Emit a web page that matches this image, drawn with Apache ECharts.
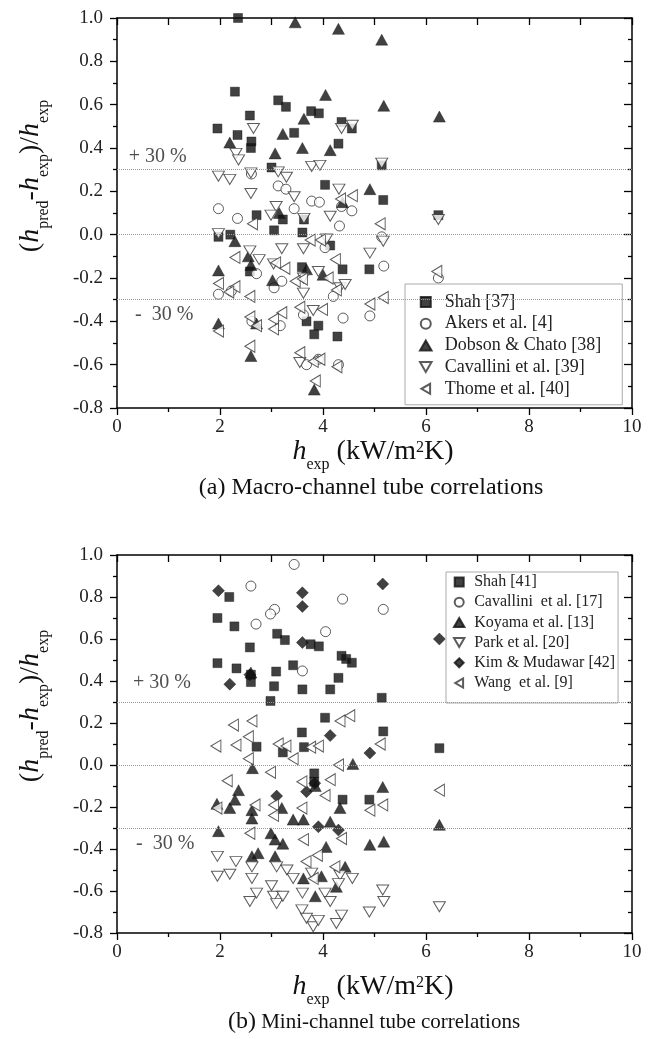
<!DOCTYPE html>
<html><head><meta charset="utf-8">
<script src="https://cdn.jsdelivr.net/npm/echarts@6/dist/echarts.min.js"></script>
<style>html,body{margin:0;padding:0;background:#fff;}#c{width:656px;height:1039px;}</style>
</head><body><div id="c"></div>
<script>
// ---------- Chart (a): macro-channel tube correlations ----------
const namesA = ['Shah [37]', 'Akers et al. [4]', 'Dobson & Chato [38]', 'Cavallini et al. [39]', 'Thome et al. [40]'];
const shahA = [[2.35,1.0],[2.29,0.66],[1.95,0.49],[2.58,0.55],[2.34,0.46],[2.61,0.43],[2.60,0.40],[3.13,0.62],[3.28,0.59],[3.44,0.47],[3.77,0.57],[3.92,0.56],[4.36,0.52],[4.56,0.49],[4.30,0.42],[3.0,0.31],[4.04,0.23],[5.17,0.16],[5.14,0.32],[2.71,0.09],[3.22,0.07],[3.05,0.02],[3.6,0.01],[4.14,-0.05],[1.97,-0.01],[2.2,0.0],[6.24,0.09],[4.38,-0.16],[4.9,-0.16],[3.59,-0.15],[2.58,-0.17],[3.68,-0.40],[3.91,-0.42],[3.83,-0.46],[4.28,-0.47],[3.63,0.07]];
const akersA = [[1.97,0.12],[2.34,0.075],[3.13,0.225],[3.28,0.21],[3.44,0.12],[3.78,0.155],[3.93,0.15],[4.36,0.13],[4.56,0.11],[4.32,0.04],[4.04,-0.06],[5.14,-0.01],[5.18,-0.145],[1.97,-0.275],[2.22,-0.26],[2.71,-0.18],[3.2,-0.215],[3.05,-0.245],[4.2,-0.285],[4.39,-0.385],[4.91,-0.375],[6.24,-0.2],[3.62,-0.37],[3.17,-0.42],[2.62,-0.40],[3.68,-0.60],[3.91,-0.575],[4.3,-0.60],[2.61,0.28]];
const dobsonA = [[3.46,0.98],[4.3,0.95],[5.14,0.9],[4.05,0.645],[5.18,0.595],[6.26,0.545],[3.63,0.535],[3.22,0.465],[2.19,0.425],[3.07,0.375],[3.6,0.4],[4.14,0.39],[4.91,0.21],[3.15,0.1],[4.38,0.15],[1.97,-0.165],[2.29,-0.03],[2.6,-0.14],[3.02,-0.21],[3.68,-0.16],[4.0,-0.185],[1.97,-0.41],[2.6,-0.56],[3.83,-0.715],[2.71,-0.41],[2.55,-0.10]];
const cavalliniA = [[2.65,0.49],[2.31,0.375],[2.36,0.345],[1.97,0.27],[2.19,0.255],[2.6,0.285],[2.6,0.19],[4.36,0.49],[4.57,0.505],[3.78,0.315],[3.94,0.32],[3.13,0.29],[3.29,0.265],[3.44,0.175],[3.09,0.13],[2.99,0.09],[3.63,0.075],[4.14,0.085],[4.31,0.21],[5.14,0.33],[6.24,0.07],[1.97,0.005],[2.58,-0.075],[3.2,-0.065],[3.62,-0.065],[4.07,-0.02],[4.91,-0.085],[5.17,-0.03],[2.76,-0.115],[3.91,-0.17],[4.33,-0.245],[4.43,-0.23],[3.62,-0.27],[3.81,-0.35],[3.55,-0.59],[3.62,-0.2],[3.04,-0.135]];
const thomeA = [[4.57,0.18],[4.34,0.165],[5.11,0.05],[2.63,0.05],[3.75,-0.025],[3.95,-0.025],[2.29,-0.105],[4.24,-0.115],[3.08,-0.13],[3.26,-0.155],[6.21,-0.17],[1.97,-0.225],[2.29,-0.24],[2.17,-0.265],[2.58,-0.285],[3.46,-0.215],[3.6,-0.205],[4.1,-0.2],[4.26,-0.255],[5.17,-0.29],[4.91,-0.32],[3.55,-0.335],[3.99,-0.345],[3.2,-0.36],[3.04,-0.39],[2.58,-0.38],[2.71,-0.42],[3.04,-0.435],[1.97,-0.445],[2.58,-0.515],[3.55,-0.545],[3.81,-0.585],[3.94,-0.575],[4.27,-0.61],[3.85,-0.675]];

// ---------- Chart (b): mini-channel tube correlations ----------
const namesB = ['Shah [41]', 'Cavallini  et al. [17]', 'Koyama et al. [13]', 'Park et al. [20]', 'Kim & Mudawar [42]', 'Wang  et al. [9]'];
const shahB = [[2.18,0.8],[1.95,0.7],[2.28,0.66],[2.58,0.56],[1.95,0.485],[2.32,0.46],[2.6,0.43],[2.6,0.395],[3.11,0.625],[3.26,0.595],[3.42,0.475],[3.09,0.445],[3.05,0.375],[2.98,0.305],[3.6,0.36],[3.76,0.575],[3.92,0.565],[4.36,0.52],[4.45,0.505],[4.56,0.487],[4.3,0.415],[4.14,0.36],[5.14,0.32],[4.04,0.225],[3.59,0.155],[5.17,0.16],[6.26,0.08],[2.71,0.087],[3.22,0.06],[3.63,0.085],[3.83,-0.04],[3.83,-0.08],[4.38,-0.165],[4.9,-0.165]];
const cavalliniB = [[3.44,0.955],[2.6,0.852],[4.38,0.79],[5.17,0.741],[3.06,0.741],[2.98,0.719],[2.7,0.671],[4.05,0.635],[3.6,0.448]];
const koyamaB = [[2.6,0.44],[2.63,-0.015],[4.58,0.005],[5.16,-0.105],[2.36,-0.12],[2.29,-0.165],[2.19,-0.205],[1.94,-0.185],[2.62,-0.215],[2.62,-0.255],[3.2,-0.205],[3.42,-0.26],[3.62,-0.26],[4.14,-0.27],[4.33,-0.205],[1.97,-0.315],[6.26,-0.285],[2.99,-0.325],[3.07,-0.355],[3.22,-0.375],[4.06,-0.39],[4.91,-0.38],[5.18,-0.365],[2.74,-0.42],[2.62,-0.435],[3.07,-0.435],[4.43,-0.485],[3.62,-0.54],[3.85,-0.625],[4.26,-0.58],[3.85,-0.1],[3.97,-0.53]];
const parkB = [[1.95,-0.435],[1.95,-0.53],[2.19,-0.52],[2.31,-0.46],[2.62,-0.485],[2.62,-0.54],[2.58,-0.65],[2.71,-0.61],[3.0,-0.575],[3.04,-0.625],[3.1,-0.66],[3.1,-0.485],[3.3,-0.5],[3.22,-0.625],[3.42,-0.54],[3.6,-0.61],[3.59,-0.69],[3.68,-0.73],[3.81,-0.77],[3.91,-0.74],[4.04,-0.61],[4.14,-0.65],[4.26,-0.755],[4.36,-0.715],[4.33,-0.525],[4.57,-0.54],[4.9,-0.7],[5.16,-0.595],[5.18,-0.65],[6.26,-0.675],[3.78,-0.515],[4.3,-0.565]];
const kimB = [[1.97,0.83],[3.6,0.82],[3.6,0.755],[5.16,0.862],[6.26,0.6],[3.6,0.583],[2.19,0.385],[2.58,0.43],[4.14,0.14],[4.91,0.057],[3.1,-0.148],[3.68,-0.127],[3.84,-0.087],[3.91,-0.294],[4.3,-0.31]];
const wangB = [[2.26,0.19],[2.62,0.21],[1.92,0.09],[2.31,0.095],[2.55,0.135],[3.13,0.1],[3.28,0.09],[2.55,0.03],[3.42,0.03],[3.76,0.085],[3.91,0.09],[4.33,0.21],[4.52,0.235],[5.11,0.1],[2.98,-0.035],[2.14,-0.075],[1.94,-0.205],[2.68,-0.19],[3.04,-0.19],[3.04,-0.24],[3.59,-0.205],[3.59,-0.08],[4.14,-0.07],[4.3,0.0],[4.04,-0.145],[4.91,-0.215],[5.16,-0.19],[6.26,-0.12],[2.58,-0.325],[3.62,-0.355],[4.36,-0.35],[3.67,-0.46],[3.89,-0.43],[4.23,-0.485],[3.81,-0.54]];

// ---------- shared axes / guides ----------
const xRange = [0, 10, 2];
const yRange = [-0.8, 1.0, 0.2];
const bandLines = [0.3, 0, -0.3];
const bandLabelsA = [[0.23, 0.36, '+ 30 %'], [0.35, -0.37, '-  30 %']];
const bandLabelsB = [[0.31, 0.39, '+ 30 %'], [0.37, -0.376, '-  30 %']];
const captionA = '(a) Macro-channel tube correlations';
const captionB = ['(b)', ' Mini-channel tube correlations'];

const F = 'Liberation Serif, Times New Roman, serif';
const INK = '#111';
const chart = echarts.init(document.getElementById('c'), null, {renderer: 'canvas'});

const SYM = {
  square: 'path://M0,0L1,0L1,1L0,1Z',
  circle: 'circle',
  up: 'path://M1,0L2,1.732L0,1.732Z',
  down: 'path://M0,0L2,0L1,1.732Z',
  left: 'path://M1.732,0L1.732,2L0,1Z',
  diamond: 'path://M1,0L2,1L1,2L0,1Z'
};

function xAxisPair(gi) {
  const base = {type: 'value', gridIndex: gi, min: xRange[0], max: xRange[1], interval: xRange[2],
    splitLine: {show: false},
    axisLine: {show: true, onZero: false, lineStyle: {color: '#000', width: 1.5}},
    minorTick: {show: true, splitNumber: 2, length: 4, lineStyle: {color: '#000', width: 1.3}}};
  return [
    Object.assign({}, base, {position: 'bottom',
      axisTick: {show: true, inside: false, length: 7, lineStyle: {color: '#000', width: 1.3}},
      axisLabel: {fontFamily: F, fontSize: 19, color: '#222', margin: 10}}),
    Object.assign({}, base, {position: 'top',
      axisTick: {show: true, inside: true, length: 7, lineStyle: {color: '#000', width: 1.3}},
      minorTick: {show: true, splitNumber: 2, length: 7, lineStyle: {color: '#000', width: 1.3}},
      axisLabel: {show: false}})
  ];
}
function yAxisPair(gi) {
  const base = {type: 'value', gridIndex: gi, min: yRange[0], max: yRange[1], interval: yRange[2],
    splitLine: {show: false},
    axisLine: {show: true, onZero: false, lineStyle: {color: '#000', width: 1.5}},
    minorTick: {show: true, splitNumber: 2, length: 4, lineStyle: {color: '#000', width: 1.3}}};
  return [
    Object.assign({}, base, {position: 'left',
      axisTick: {show: true, inside: false, length: 7, lineStyle: {color: '#000', width: 1.3}},
      axisLabel: {fontFamily: F, fontSize: 19, color: '#222', margin: 14,
        formatter: v => (Math.abs(v) < 1e-9 ? 0 : v).toFixed(1)}}),
    Object.assign({}, base, {position: 'right',
      axisTick: {show: true, inside: true, length: 8, lineStyle: {color: '#000', width: 1.3}},
      axisLabel: {show: false}})
  ];
}

function sc(name, data, gi, symbol, size, filled) {
  return {
    type: 'scatter', name: name, data: data,
    xAxisIndex: gi * 2, yAxisIndex: gi * 2, symbol: symbol, symbolSize: size,
    itemStyle: filled ? {color: INK, borderColor: INK, borderWidth: 0.5}
                      : {color: '#fff', borderColor: '#333', borderWidth: 1},
    emphasis: {disabled: true}
  };
}
function guides(gi, labels) {
  return {
    type: 'scatter', name: 'guides' + gi, data: labels, z: 1,
    xAxisIndex: gi * 2, yAxisIndex: gi * 2, symbolSize: 0,
    label: {show: true, position: 'right', distance: 0, formatter: p => p.data[2],
      fontFamily: F, fontSize: 20, color: '#222'},
    markLine: {silent: true, symbol: ['none', 'none'], label: {show: false},
      lineStyle: {color: '#999', type: 'dotted', width: 1},
      data: bandLines.map(v => ({yAxis: v}))}
  };
}

const richT = {
  p: {fontFamily: F, fontSize: 28, lineHeight: 34, verticalAlign: 'top', color: '#111'},
  h: {fontFamily: F, fontSize: 28, fontStyle: 'italic', lineHeight: 34, verticalAlign: 'top', color: '#111'},
  s: {fontFamily: F, fontSize: 16, lineHeight: 16, padding: [19, 0, 0, 0], verticalAlign: 'top', color: '#111'},
  u: {fontFamily: F, fontSize: 16, lineHeight: 16, padding: [2, 0, 0, 0], verticalAlign: 'top', color: '#111'}
};
const yTitle = '{p|(}{h|h}{s|pred}{p|-}{h|h}{s|exp}{p|)/}{h|h}{s|exp}';
const xTitle = '{h|h}{s|exp}{p| (kW/m}{u|2}{p|K)}';

function txt(x, y, text, rot, rich, extra) {
  return {type: 'text', x: x, y: y, rotation: rot || 0, silent: true,
    style: Object.assign({text: text, rich: rich, align: 'center', verticalAlign: 'middle',
      fontFamily: F, fill: '#111'}, extra || {})};
}

const legendBase = {orient: 'vertical', backgroundColor: '#fff', borderColor: '#aaa', borderWidth: 1,
  borderRadius: 0, selectedMode: false, inactiveColor: '#111'};

const option = {
  animation: false,
  backgroundColor: '#fff',
  grid: [
    {left: 117, right: 24, top: 18, height: 390},
    {left: 117, right: 24, top: 555, height: 378}
  ],
  xAxis: [].concat(xAxisPair(0), xAxisPair(1)),
  yAxis: [].concat(yAxisPair(0), yAxisPair(1)),
  legend: [
    Object.assign({}, legendBase, {data: namesA, left: 405, top: 284, itemWidth: 28, itemHeight: 10,
      itemGap: 3.7, padding: [9, 21, 7, 14],
      textStyle: {fontFamily: F, fontSize: 18, lineHeight: 18, color: '#222'}}),
    Object.assign({}, legendBase, {data: namesB, left: 446, top: 572, itemWidth: 20, itemHeight: 9,
      itemGap: 4.2, padding: [2, 3, 12, 7],
      textStyle: {fontFamily: F, fontSize: 16, lineHeight: 16, color: '#222'}})
  ],
  series: [
    guides(0, bandLabelsA),
    sc(namesA[0], shahA, 0, SYM.square, 9, true),
    sc(namesA[1], akersA, 0, SYM.circle, 10, false),
    sc(namesA[2], dobsonA, 0, SYM.up, [12, 11], true),
    sc(namesA[3], cavalliniA, 0, SYM.down, [12, 10], false),
    sc(namesA[4], thomeA, 0, SYM.left, [10, 12], false),
    guides(1, bandLabelsB),
    sc(namesB[0], shahB, 1, SYM.square, 9, true),
    sc(namesB[1], cavalliniB, 1, SYM.circle, 10, false),
    sc(namesB[2], koyamaB, 1, SYM.up, [12, 11], true),
    sc(namesB[3], parkB, 1, SYM.down, [12, 10], false),
    sc(namesB[4], kimB, 1, SYM.diamond, 12, true),
    sc(namesB[5], wangB, 1, SYM.left, [10, 12], false)
  ],
  graphic: [
    txt(34, 176, yTitle, Math.PI / 2, richT),
    txt(34, 706, yTitle, Math.PI / 2, richT),
    txt(373, 455, xTitle, 0, richT),
    txt(373, 990, xTitle, 0, richT),
    txt(371, 488, captionA, 0, null, {fontSize: 24}),
    txt(374, 1022, '{b|' + captionB[0] + '}{t|' + captionB[1] + '}', 0,
      {b: {fontFamily: F, fontSize: 24, color: '#111'}, t: {fontFamily: F, fontSize: 21, color: '#111'}})
  ]
};
chart.setOption(option);
</script>
</body></html>
